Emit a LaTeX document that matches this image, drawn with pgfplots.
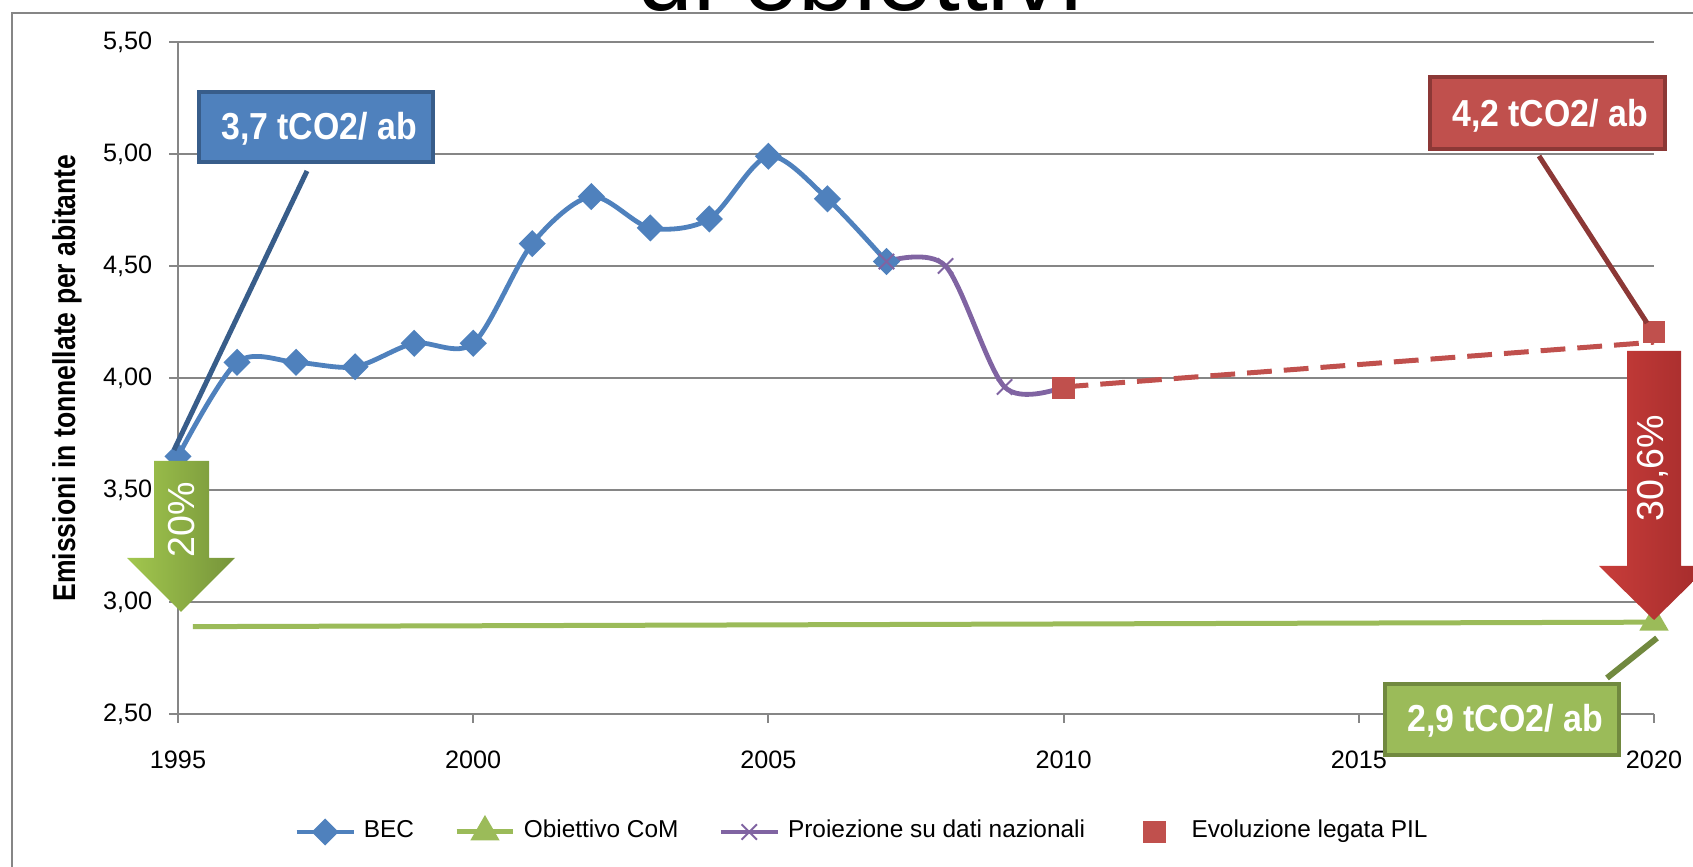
\documentclass[border=0pt]{standalone}
\usepackage{fontspec}
\setmainfont{Liberation Sans}
\newfontfamily\narrow[FakeStretch=0.84]{Liberation Sans}
\newfontfamily\boxfont[FakeStretch=0.9]{Liberation Sans}
\usepackage{pgfplots}
\pgfplotsset{compat=1.18}

\definecolor{becblue}{HTML}{4F81BD}
\definecolor{comgreen}{HTML}{9BBB59}
\definecolor{projpurple}{HTML}{8064A2}
\definecolor{pilred}{HTML}{C0504D}
\definecolor{gridgray}{HTML}{868686}
\definecolor{blueedge}{HTML}{385D8A}
\definecolor{rededge}{HTML}{8C3836}
\definecolor{greenedge}{HTML}{71893F}
\definecolor{garrowL}{HTML}{A2C74E}
\definecolor{garrowR}{HTML}{76943A}
\definecolor{rarrowL}{HTML}{C83D3A}
\definecolor{rarrowR}{HTML}{A32B2B}

\begin{document}
\begin{tikzpicture}[x=0.25pt,y=0.25pt]
\useasboundingbox (0,0) rectangle (1693,867);
% chart frame and cut title of the slide
\draw[gridgray, line width=0.4pt] (12,0) -- (12,854) -- (1693,854);
\node[anchor=base west, inner sep=0pt, font=\fontsize{25}{30}\selectfont] at (637,856) {di obiettivi};

\begin{axis}[
  at={(44.5pt,38.25pt)}, anchor=south west,
  scale only axis, width=369pt, height=168pt,
  xmin=1995, xmax=2020, ymin=2.5, ymax=5.5,
  clip=false,
  axis lines=left,
  axis line style={-, draw=gridgray, line width=0.5pt},
  xtick={1995,2000,...,2020},
  ytick={2.5,3,...,5.5},
  tick align=outside, major tick length=2.2pt,
  tick style={draw=gridgray, line width=0.5pt},
  ymajorgrids, major grid style={draw=gridgray, line width=0.35pt},
  scaled ticks=false,
  /pgf/number format/assume math mode=true,
  tick label style={font=\fontsize{6.3}{7}\selectfont, text=black},
  x tick label style={/pgf/number format/1000 sep={}, yshift=-3.5pt},
  y tick label style={/pgf/number format/.cd, fixed, fixed zerofill, precision=2, use comma, /tikz/.cd, xshift=-0.75pt},
  ylabel={Emissioni in tonnellate per abitante},
  ylabel style={at={(axis description cs:-0.0752,0.5)}, anchor=center, font=\narrow\bfseries\fontsize{7.9}{9}\selectfont},
  legend columns=4,
  legend cell align=left,
  legend style={at={(axis description cs:0.4654,-0.1756)}, anchor=center, draw=none, fill=none,
    font=\fontsize{6.1}{7}\selectfont, /tikz/every even column/.append style={column sep=8pt}},
  legend image code/.code={\draw[mark repeat=2,mark phase=2] plot coordinates {(0pt,0pt)(7.1pt,0pt)(14.2pt,0pt)};},
]
\addplot[smooth, draw=becblue, line width=1.2pt, mark=square*, mark size=1.8pt,
  mark options={rotate=45, fill=becblue, draw=becblue, solid}] coordinates {
  (1995,3.65) (1996,4.07) (1997,4.07) (1998,4.05) (1999,4.155) (2000,4.155)
  (2001,4.60) (2002,4.81) (2003,4.67) (2004,4.71) (2005,4.99) (2006,4.80) (2007,4.52)
};
\addlegendentry{BEC}
\addplot[draw=comgreen, line width=1.25pt, mark=triangle*, mark size=3pt, mark indices={2},
  mark options={fill=comgreen, draw=comgreen}] coordinates {
  (1995.25,2.89) (2020,2.91)
};
\addlegendentry{Obiettivo CoM}
\addplot[smooth, draw=projpurple, line width=1.2pt, mark=x, mark size=2.7pt,
  mark options={draw=projpurple, line width=0.5pt}] coordinates {
  (2007,4.52) (2008,4.50) (2009,3.96) (2010,3.96)
};
\addlegendentry{Proiezione su dati nazionali}
\addplot[forget plot, draw=pilred, line width=1.25pt, dash pattern=on 6.2pt off 3pt] coordinates {
  (2010,3.96) (2020,4.16)
};
\addplot[only marks, mark=square*, mark size=2.6pt, mark options={fill=pilred, draw=pilred},
  legend image code/.code={\path (0pt,0pt) (14.2pt,0pt); \draw plot coordinates {(7.1pt,0pt)};}] coordinates {
  (2010,3.955) (2020,4.205)
};
\addlegendentry{Evoluzione legata PIL}
\end{axis}

% leader lines
\draw[blueedge, line width=1.25pt] (307,696) -- (174,417);
\draw[rededge, line width=1.25pt] (1539,711) -- (1647,544);
\draw[greenedge, line width=1.5pt] (1607,189) -- (1657,229);

% callout boxes
\draw[fill=becblue, draw=blueedge, line width=1.1pt] (199,705) rectangle (433,775);
\node[anchor=base, inner sep=0pt, text=white, font=\boxfont\bfseries\fontsize{9.4}{11}\selectfont] at (319,727) {3,7 tCO2/ ab};
\draw[fill=pilred, draw=rededge, line width=1.1pt] (1430,718) rectangle (1665,790);
\node[anchor=base, inner sep=0pt, text=white, font=\boxfont\bfseries\fontsize{9.4}{11}\selectfont] at (1550,740) {4,2 tCO2/ ab};
\draw[fill=comgreen, draw=greenedge, line width=1.1pt] (1385,112) rectangle (1619,183);
\node[anchor=base, inner sep=0pt, text=white, font=\boxfont\bfseries\fontsize{9.4}{11}\selectfont] at (1505,135) {2,9 tCO2/ ab};

% reduction arrows
\shade[left color=garrowL, right color=garrowR] (154,406) -- (209,406) -- (209,309) -- (235,309) -- (181,255) -- (127,309) -- (154,309) -- cycle;
\node[rotate=90, text=white, inner sep=0pt, font=\fontsize{9.4}{11}\selectfont] at (182,347) {20\%};
\shade[left color=rarrowL, right color=rarrowR] (1627,516) -- (1681,516) -- (1681,301) -- (1709,301) -- (1654,247) -- (1599,301) -- (1627,301) -- cycle;
\node[rotate=90, text=white, inner sep=0pt, font=\fontsize{9.4}{11}\selectfont] at (1653,399) {30,6\%};
\end{tikzpicture}
\end{document}
